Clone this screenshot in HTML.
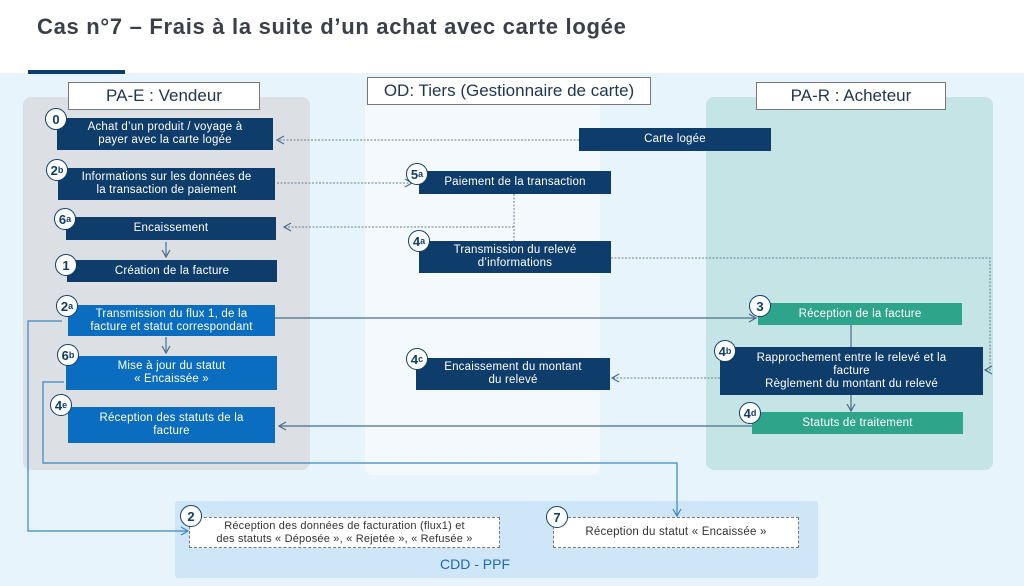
<!DOCTYPE html>
<html><head><meta charset="utf-8"><style>
*{margin:0;padding:0;box-sizing:border-box}
body{width:1024px;height:586px;position:relative;overflow:hidden;background:#fff;font-family:"Liberation Sans",sans-serif}
.a{position:absolute}
.b{position:absolute;color:#fff;font-size:11.5px;display:flex;align-items:center;justify-content:center;text-align:center;line-height:13px;letter-spacing:0.2px}
.n{background:#0f3d6b}.u{background:#0b6dc0}.g{background:#2ea58a}
.c{position:absolute;width:22px;height:22px;border-radius:50%;background:#fff;border:1.5px solid #0f3d6b;color:#0f3d6b;font-weight:bold;font-size:13px;display:flex;align-items:center;justify-content:center;z-index:3}
.c small{font-size:9px}
.h{position:absolute;background:#fff;border:1px solid #777;color:#1f3550;font-size:17px;display:flex;align-items:center;justify-content:center}
</style></head><body>
<div class="a" style="left:37px;top:14px;font-size:22px;font-weight:bold;color:#3a3f4a;letter-spacing:0.7px">Cas n°7 – Frais à la suite d’un achat avec carte logée</div>
<div class="a" style="left:0;top:73px;width:1024px;height:513px;background:#e8f4fc"></div>
<div class="a" style="left:28px;top:70px;width:97px;height:4px;background:#0f3d6b"></div>
<div class="a" style="left:23px;top:97px;width:287px;height:373px;background:#dcdfe3;border-radius:8px"></div>
<div class="a" style="left:365px;top:100px;width:235px;height:375px;background:#f4f9fd;border-radius:8px"></div>
<div class="a" style="left:706px;top:97px;width:287px;height:373px;background:#c4e4e5;border-radius:8px"></div>
<div class="a" style="left:175px;top:501px;width:643px;height:77px;background:#cfe6f8;border-radius:3px"></div>
<div class="a" style="left:440px;top:556px;font-size:14px;color:#1a6bb8">CDD - PPF</div>
<div class="h" style="left:68px;top:82px;width:192px;height:28px">PA-E : Vendeur</div>
<div class="h" style="left:367px;top:77px;width:284px;height:28px">OD: Tiers (Gestionnaire de carte)</div>
<div class="h" style="left:756px;top:82px;width:190px;height:28px">PA-R : Acheteur</div>

<svg class="a" style="left:0;top:0;z-index:2" width="1024" height="586">
<defs><marker id="m" markerWidth="10" markerHeight="10" refX="8" refY="5" orient="auto" markerUnits="userSpaceOnUse"><path d="M1,1 L8,5 L1,9" fill="none" stroke="#4a6d8c" stroke-width="1.2"/></marker>
<marker id="m2" markerWidth="10" markerHeight="10" refX="8" refY="5" orient="auto" markerUnits="userSpaceOnUse"><path d="M1,1 L8,5 L1,9" fill="none" stroke="#3a87c4" stroke-width="1.2"/></marker></defs>
<g fill="none" stroke="#6a7f94" stroke-width="1" stroke-dasharray="2,1.5">
<path d="M579,140 H277" marker-end="url(#m)"/>
<path d="M277,183 H412" marker-end="url(#m)"/>
<path d="M514,194 V241 M514,227 H284" marker-end="url(#m)"/>
<path d="M611,258 H990 V370 H985" marker-end="url(#m)"/>
<path d="M720,378 H612" marker-end="url(#m)"/>
</g>
<g fill="none" stroke="#4a6d8c" stroke-width="1.2">
<path d="M275,318 H756" marker-end="url(#m)"/>
<path d="M752,426 H279" marker-end="url(#m)"/>
<path d="M851,325 V347"/>
<path d="M851,395 V411" marker-end="url(#m)"/>
<path d="M166,242 V257" marker-end="url(#m)"/>
<path d="M166,337 V353" marker-end="url(#m)"/>
</g>
<g fill="none" stroke="#3a87c4" stroke-width="1.2">
<path d="M62,321 H28 V531 H188" marker-end="url(#m2)"/>
<path d="M64,382 H43 V463 H677 V516" marker-end="url(#m2)"/>
</g>
</svg>

<div class="b n" style="left:57px;top:118px;width:216px;height:32px">Achat d’un produit / voyage à<br>payer avec la carte logée</div>
<div class="b n" style="left:58px;top:168px;width:217px;height:32px">Informations sur les données de<br>la transaction de paiement</div>
<div class="b n" style="left:66px;top:217px;width:210px;height:23px">Encaissement</div>
<div class="b n" style="left:67px;top:260px;width:210px;height:22px">Création de la facture</div>
<div class="b u" style="left:68px;top:305px;width:207px;height:31px">Transmission du flux 1, de la<br>facture et statut correspondant</div>
<div class="b u" style="left:66px;top:356px;width:211px;height:34px">Mise à jour du statut<br>« Encaissée »</div>
<div class="b u" style="left:68px;top:407px;width:207px;height:36px">Réception des statuts de la<br>facture</div>
<div class="b n" style="left:579px;top:128px;width:192px;height:23px">Carte logée</div>
<div class="b n" style="left:419px;top:171px;width:192px;height:23px">Paiement de la transaction</div>
<div class="b n" style="left:419px;top:241px;width:192px;height:32px">Transmission du relevé<br>d’informations</div>
<div class="b n" style="left:416px;top:358px;width:194px;height:32px">Encaissement du montant<br>du relevé</div>
<div class="b g" style="left:758px;top:303px;width:204px;height:22px">Réception de la facture</div>
<div class="b n" style="left:720px;top:347px;width:263px;height:48px">Rapprochement entre le relevé et la<br>facture<br>Règlement du montant du relevé</div>
<div class="b g" style="left:752px;top:412px;width:211px;height:22px">Statuts de traitement</div>
<div class="b" style="left:189px;top:517px;width:311px;height:31px;background:#fff;border:1px dashed #777;color:#333;font-size:11px">Réception des données de facturation (flux1) et<br>des statuts « Déposée », « Rejetée », « Refusée »</div>
<div class="b" style="left:553px;top:517px;width:246px;height:31px;background:#fff;border:1px dashed #777;color:#333">Réception du statut « Encaissée »</div>

<div class="c" style="left:45px;top:108px">0</div>
<div class="c" style="left:46px;top:159px">2<small>b</small></div>
<div class="c" style="left:54px;top:208px">6<small>a</small></div>
<div class="c" style="left:55px;top:254px">1</div>
<div class="c" style="left:56px;top:295px">2<small>a</small></div>
<div class="c" style="left:57px;top:344px">6<small>b</small></div>
<div class="c" style="left:50px;top:394px">4<small>e</small></div>
<div class="c" style="left:406px;top:163px">5<small>a</small></div>
<div class="c" style="left:408px;top:230px">4<small>a</small></div>
<div class="c" style="left:406px;top:348px">4<small>c</small></div>
<div class="c" style="left:749px;top:295px">3</div>
<div class="c" style="left:714px;top:340px">4<small>b</small></div>
<div class="c" style="left:739px;top:402px">4<small>d</small></div>
<div class="c" style="left:180px;top:505px">2</div>
<div class="c" style="left:546px;top:506px">7</div>
</body></html>
